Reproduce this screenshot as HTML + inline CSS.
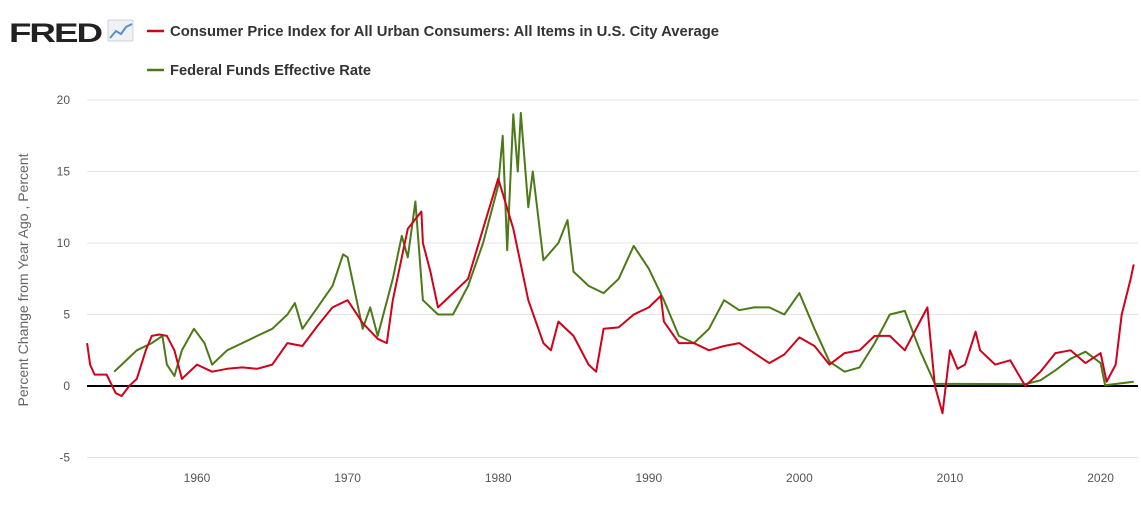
<!DOCTYPE html>
<html><head><meta charset="utf-8"><style>
body{margin:0;background:#fff;font-family:"Liberation Sans",sans-serif;}
svg{display:block}
</style></head><body>
<svg id="c" width="1141" height="505">
<g>
<text x="9" y="42" font-size="27" font-weight="bold" fill="#222" font-family="Liberation Sans" letter-spacing="-1.5" textLength="92" lengthAdjust="spacingAndGlyphs">FRED</text>
<rect x="108" y="20" width="25" height="21" fill="#eef2f7" stroke="#aab" stroke-width="0.5"/>
<polyline points="110,38 116,31 121,34 126,27 132,24" fill="none" stroke="#5a8fc6" stroke-width="2"/>
</g>
<g>
<line x1="147" y1="31" x2="164" y2="31" stroke="#d0021b" stroke-width="2.5"/>
<text x="170" y="36" font-size="14.5" font-weight="bold" fill="#333" textLength="549" lengthAdjust="spacingAndGlyphs">Consumer Price Index for All Urban Consumers: All Items in U.S. City Average</text>
<line x1="147" y1="70" x2="164" y2="70" stroke="#4b7a17" stroke-width="2.5"/>
<text x="170" y="75" font-size="14.5" font-weight="bold" fill="#333" textLength="201" lengthAdjust="spacingAndGlyphs">Federal Funds Effective Rate</text>
</g>
<text transform="translate(28,280) rotate(-90)" text-anchor="middle" font-size="14" fill="#666">Percent Change from Year Ago , Percent</text>
<g id="grid"></g><g id="series"></g>
</svg>
<script>
const yTicks=[-5,0,5,10,15,20];
const xTicks=[1960,1970,1980,1990,2000,2010,2020];
const cpiYears=[1952.7,1952.9,1953.2,1954,1954.6,1955,1955.5,1956,1956.6,1957,1957.5,1958,1958.5,1959,1959.5,1960,1961,1962,1963,1964,1965,1966,1967,1968,1969,1970,1971,1972,1972.6,1973,1974,1974.9,1975,1975.5,1976,1977,1978,1979,1980,1981,1982,1983,1983.5,1984,1985,1986,1986.5,1987,1988,1989,1990,1990.8,1991,1992,1993,1994,1995,1996,1997,1998,1999,2000,2001,2002,2003,2004,2005,2006,2007,2008,2008.5,2009,2009.5,2010,2010.5,2011,2011.7,2012,2013,2014,2015,2016,2017,2018,2019,2020,2020.4,2021,2021.4,2022,2022.2];
const cpiVals=[3,1.5,0.8,0.8,-0.5,-0.7,0,0.5,2.5,3.5,3.6,3.5,2.5,0.5,1,1.5,1,1.2,1.3,1.2,1.5,3,2.8,4.2,5.5,6,4.4,3.3,3,6,11,12.2,10,8,5.5,6.5,7.5,11,14.5,11,6,3,2.5,4.5,3.5,1.5,1,4,4.1,5,5.5,6.3,4.5,3,3,2.5,2.8,3,2.3,1.6,2.2,3.4,2.8,1.5,2.3,2.5,3.5,3.5,2.5,4.5,5.5,0,-1.9,2.5,1.2,1.5,3.8,2.5,1.5,1.8,0,1,2.3,2.5,1.6,2.3,0.3,1.5,5,7.5,8.5];
const ffYears=[1954.5,1955,1956,1957,1957.7,1958,1958.5,1959,1959.8,1960.5,1961,1962,1963,1964,1965,1966,1966.5,1967,1968,1969,1969.7,1970,1971,1971.5,1972,1973,1973.6,1974,1974.5,1975,1976,1977,1978,1979,1980,1980.3,1980.6,1981,1981.3,1981.5,1982,1982.3,1983,1984,1984.6,1985,1986,1987,1988,1989,1990,1991,1992,1993,1994,1995,1996,1997,1998,1999,2000,2001,2002,2003,2004,2005,2006,2007,2008,2009,2010,2015,2016,2017,2018,2019,2020,2020.3,2022.2];
const ffVals=[1,1.5,2.5,3,3.5,1.5,0.7,2.5,4,3,1.5,2.5,3,3.5,4,5,5.8,4,5.5,7,9.2,9,4,5.5,3.5,7.5,10.5,9,12.9,6,5,5,7,10,14,17.5,9.5,19,15,19.1,12.5,15,8.8,10,11.6,8,7,6.5,7.5,9.8,8.2,6,3.5,3,4,6,5.3,5.5,5.5,5,6.5,4,1.7,1,1.3,3,5,5.25,2.5,0.15,0.15,0.13,0.4,1.1,1.9,2.4,1.6,0.05,0.3];
const X=y=>197+(y-1960)*15.06, Y=v=>386-v*14.3;
const NS="http://www.w3.org/2000/svg";
const grid=document.getElementById('grid'), ser=document.getElementById('series');
yTicks.forEach(t=>{
 const l=document.createElementNS(NS,'line');
 l.setAttribute('x1',87);l.setAttribute('x2',1138);l.setAttribute('y1',Y(t));l.setAttribute('y2',Y(t));
 l.setAttribute('stroke',t===0?'#000':'#e4e4e4');l.setAttribute('stroke-width',t===0?2:1);
 
 
 grid.appendChild(l);
 const tx=document.createElementNS(NS,'text');
 tx.setAttribute('x',70);tx.setAttribute('y',Y(t)+4);tx.setAttribute('text-anchor','end');
 tx.setAttribute('font-size','12');tx.setAttribute('fill','#555');tx.textContent=t;
 
 
 grid.appendChild(tx);
});
xTicks.forEach(t=>{
 const tx=document.createElementNS(NS,'text');
 tx.setAttribute('x',X(t));tx.setAttribute('y',482);tx.setAttribute('text-anchor','middle');
 tx.setAttribute('font-size','12');tx.setAttribute('fill','#555');tx.textContent=t;
 
 
 grid.appendChild(tx);
});
function line(xs,vs,col,name){
 const p=document.createElementNS(NS,'polyline');
 p.setAttribute('points',xs.map((x,i)=>X(x).toFixed(1)+','+Y(vs[i]).toFixed(1)).join(' '));
 p.setAttribute('fill','none');p.setAttribute('stroke',col);p.setAttribute('stroke-width',2);
 p.setAttribute('stroke-linejoin','round');
 
 
 ser.appendChild(p);
}
line(ffYears,ffVals,'#4b7a17','fed-funds-line');
line(cpiYears,cpiVals,'#d0021b','cpi-line');
</script>
</body></html>
